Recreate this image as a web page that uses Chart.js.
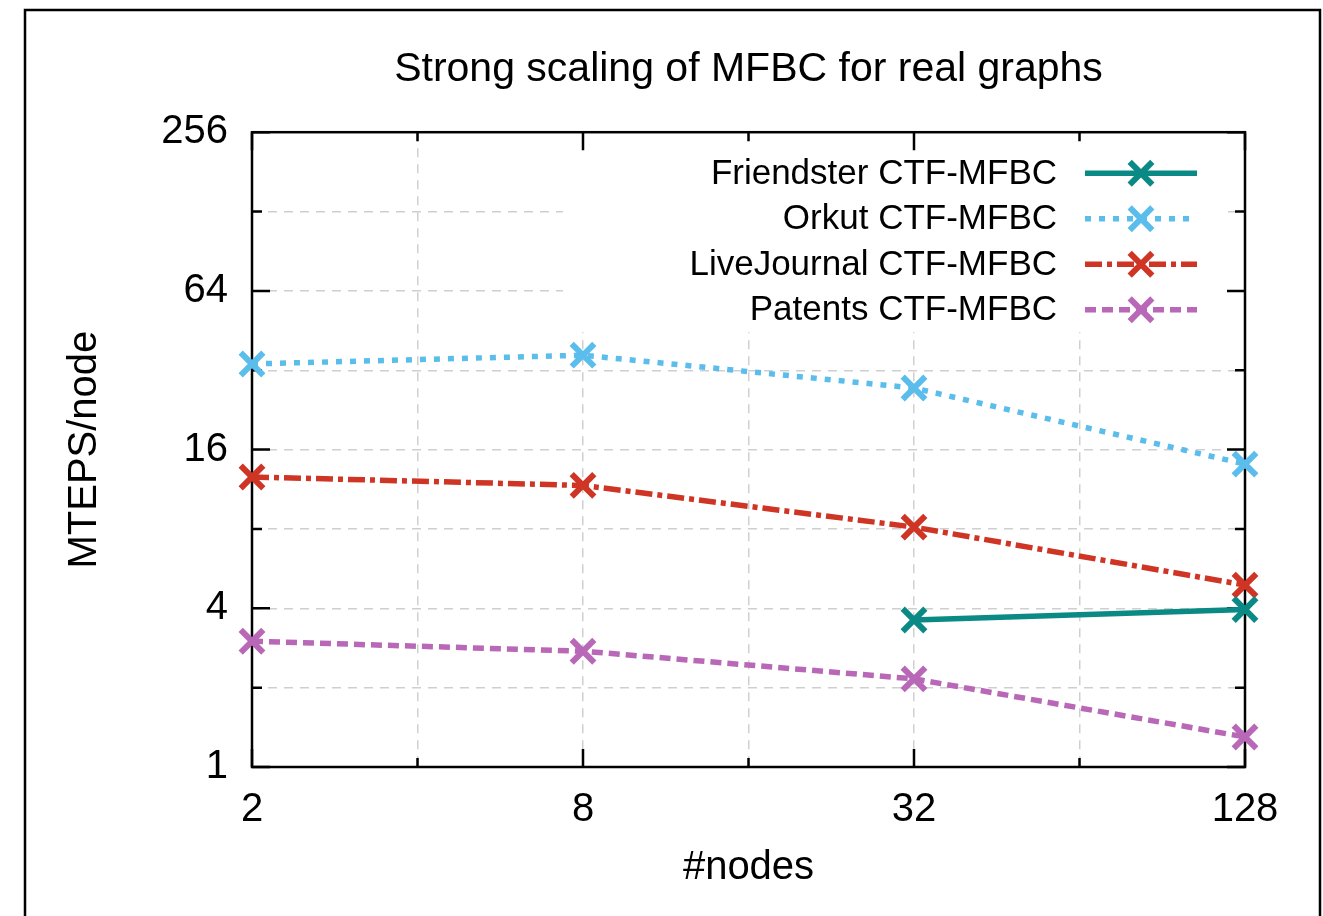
<!DOCTYPE html>
<html><head><meta charset="utf-8">
<script src="https://cdn.jsdelivr.net/npm/chart.js@4/dist/chart.umd.min.js"></script>
<style>html,body{margin:0;padding:0;background:#fff}#wrap{width:1323px;height:916px}</style>
</head><body><div id="wrap"><canvas id="c" width="1323" height="916"></canvas></div>
<script>
// ---- data ----
const nodes = [2, 8, 32, 128];
const friendster = [null, null, 3.61, 3.96];
const orkut = [33.8, 36.5, 27.4, 14.1];
const liveJournal = [12.6, 11.7, 8.13, 4.9];
const patents = [3.0, 2.75, 2.16, 1.30];
const seriesNames = ['Friendster CTF-MFBC', 'Orkut CTF-MFBC', 'LiveJournal CTF-MFBC', 'Patents CTF-MFBC'];
const xTickValues = [2, 4, 8, 16, 32, 64, 128];
const xTickLabels = ['2', '', '8', '', '32', '', '128'];
const yTickValues = [1, 2, 4, 8, 16, 32, 64, 128, 256];
const yTickLabels = ['1', '', '4', '', '16', '', '64', '', '256'];
const titleText = 'Strong scaling of MFBC for real graphs';
const xTitle = '#nodes';
const yTitle = 'MTEPS/node';

// ---- styles ----
const FONT = '"Liberation Sans", Arial, Helvetica, sans-serif';
const colors = ['#0b8a85', '#5bbdec', '#cf3524', '#b868b6'];
const dashes = [[], [6, 8], [17, 5, 5, 5], [11, 6]];
const LW = 5.5;
const MR = 16;
const MW = 6;

function pts(arr) {
  return nodes.map((n, i) => ({x: n, y: arr[i]})).filter(p => p.y !== null);
}
const seriesData = [friendster, orkut, liveJournal, patents];
const datasets = seriesData.map((arr, i) => ({
  label: seriesNames[i],
  data: pts(arr),
  borderColor: colors[i],
  backgroundColor: colors[i],
  borderWidth: LW,
  borderDash: dashes[i],
  pointStyle: 'crossRot',
  pointRadius: MR,
  pointBorderWidth: MW,
  pointBorderColor: colors[i],
  pointHoverRadius: MR,
  tension: 0,
  fill: false,
  clip: false
}));

function drawX(ctx, x, y, r, color) {
  ctx.save();
  ctx.setLineDash([]);
  ctx.strokeStyle = color;
  ctx.lineWidth = MW;
  ctx.beginPath();
  const d = r * Math.SQRT1_2;
  ctx.moveTo(x - d, y - d); ctx.lineTo(x + d, y + d);
  ctx.moveTo(x - d, y + d); ctx.lineTo(x + d, y - d);
  ctx.stroke();
  ctx.restore();
}

const deco = {
  id: 'deco',
  beforeDraw(chart) {
    const ctx = chart.ctx;
    ctx.save();
    ctx.fillStyle = '#fff';
    ctx.fillRect(0, 0, chart.width, chart.height);
    ctx.strokeStyle = '#000';
    ctx.lineWidth = 2.5;
    ctx.beginPath();
    ctx.moveTo(25, chart.height);
    ctx.lineTo(25, 10);
    ctx.lineTo(1320, 10);
    ctx.lineTo(1320, chart.height);
    ctx.stroke();
    ctx.restore();
  },
  beforeDatasetsDraw(chart) {
    const ctx = chart.ctx;
    const a = chart.chartArea;
    const xs = chart.scales.x, ys = chart.scales.y;
    ctx.save();
    // opaque key box
    ctx.fillStyle = '#fff';
    ctx.fillRect(a.left + 311, a.top + 8, (a.right - 23) - (a.left + 311), 192);
    // border
    ctx.strokeStyle = '#000';
    ctx.lineWidth = 2.5;
    ctx.setLineDash([]);
    ctx.strokeRect(a.left, a.top, a.right - a.left, a.bottom - a.top);
    // ticks (inward, mirrored)
    ctx.beginPath();
    xTickValues.forEach((v, i) => {
      const px = xs.getPixelForValue(v);
      const len = xTickLabels[i] ? 18 : 9;
      ctx.moveTo(px, a.bottom); ctx.lineTo(px, a.bottom - len);
      ctx.moveTo(px, a.top); ctx.lineTo(px, a.top + len);
    });
    yTickValues.forEach((v, i) => {
      const py = ys.getPixelForValue(v);
      const len = yTickLabels[i] ? 18 : 10;
      ctx.moveTo(a.left, py); ctx.lineTo(a.left + len, py);
      ctx.moveTo(a.right, py); ctx.lineTo(a.right - len, py);
    });
    ctx.stroke();
    // key entries
    ctx.font = '35px ' + FONT;
    ctx.textAlign = 'right';
    ctx.textBaseline = 'middle';
    chart.data.datasets.forEach((ds, i) => {
      const ry = a.top + 41 + i * 45.5;
      ctx.fillStyle = '#000';
      ctx.fillText(ds.label, a.right - 188, ry + 1);
      ctx.save();
      ctx.strokeStyle = ds.borderColor;
      ctx.lineWidth = LW;
      ctx.setLineDash(ds.borderDash);
      ctx.beginPath();
      ctx.moveTo(a.right - 160, ry);
      ctx.lineTo(a.right - 48, ry);
      ctx.stroke();
      ctx.restore();
      drawX(ctx, a.right - 104, ry, MR, ds.borderColor);
    });
    ctx.restore();
  }
};

const axisFont = {family: FONT, size: 40, weight: 'normal'};

new Chart(document.getElementById('c'), {
  type: 'line',
  data: {datasets},
  plugins: [deco],
  options: {
    responsive: false,
    animation: false,
    devicePixelRatio: 1,
    layout: {padding: {left: 0, right: 78, top: 0, bottom: 0}},
    plugins: {
      legend: {display: false},
      tooltip: {enabled: false},
      title: {
        display: true, text: titleText, fullSize: false, color: '#000',
        font: {family: FONT, size: 41, weight: 'normal'},
        padding: {top: 45, bottom: 38}
      }
    },
    scales: {
      x: {
        type: 'logarithmic', min: 2, max: 128,
        afterBuildTicks: s => { s.ticks = xTickValues.map(v => ({value: v})); },
        afterFit: s => { s.height = 149; },
        ticks: {
          autoSkip: false, maxRotation: 0, minRotation: 0, padding: 19,
          color: '#000', font: axisFont,
          callback: (v, i) => xTickLabels[i]
        },
        grid: {color: '#cfcfcf', lineWidth: 1.5, drawTicks: false},
        border: {display: false, dash: [9, 7]},
        title: {display: true, text: xTitle, color: '#000', font: axisFont, padding: {top: 0, bottom: 24}}
      },
      y: {
        type: 'logarithmic', min: 1, max: 256,
        afterBuildTicks: s => { s.ticks = yTickValues.map(v => ({value: v})); },
        afterFit: s => { s.width = 252; },
        ticks: {
          autoSkip: false, padding: 24,
          color: '#000', font: axisFont,
          callback: (v, i) => yTickLabels[i]
        },
        grid: {color: '#cfcfcf', lineWidth: 1.5, drawTicks: false},
        border: {display: false, dash: [9, 7]},
        title: {display: true, text: yTitle, color: '#000', font: axisFont, padding: {top: 61, bottom: 0}}
      }
    }
  }
});
</script>
</body></html>
